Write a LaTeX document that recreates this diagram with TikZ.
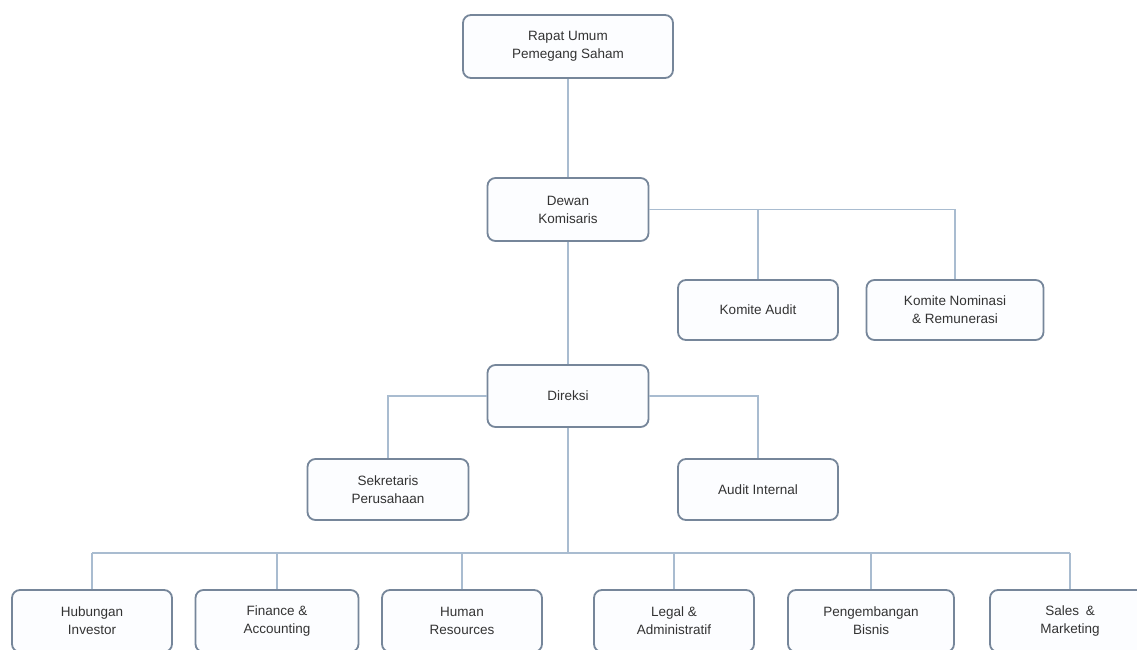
\documentclass[tikz,border=0pt]{standalone}
\usepackage{fontspec}
\setmainfont{Liberation Sans}
\definecolor{boxline}{HTML}{76869A}
\definecolor{boxfill}{HTML}{FCFDFF}
\definecolor{wire}{HTML}{A9BCD0}
\definecolor{ink}{HTML}{333333}
\begin{document}
\begin{tikzpicture}[x=1pt,y=-1pt,
  orgbox/.style={draw=boxline,fill=boxfill,line width=1.8pt,rounded corners=8pt,
    minimum width=160pt,minimum height=61pt,inner sep=0pt,align=center,
    text=ink,font=\fontsize{13.5}{18}\selectfont},
  link/.style={draw=wire,line width=1.4pt}]
\useasboundingbox[fill=white] (0,0) rectangle (1137,650);

% board level
\node[orgbox,minimum width=210pt,minimum height=63pt] (rups) at (568,46.5) {Rapat Umum\\Pemegang Saham};
\node[orgbox,minimum width=161pt,minimum height=63pt] (dekom) at (568,209.5) {Dewan\\Komisaris};
\node[orgbox,minimum height=60pt] (kaudit) at (758,310) {Komite Audit};
\node[orgbox,minimum width=177pt,minimum height=60pt] (knr) at (955,310) {Komite Nominasi\\\& Remunerasi};

% directors
\node[orgbox,minimum width=161pt,minimum height=62pt] (dir) at (568,396) {Direksi};
\node[orgbox,minimum width=161pt] (sekper) at (388,489.5) {Sekretaris\\Perusahaan};
\node[orgbox] (ai) at (758,489.5) {Audit Internal};

% departments
\node[orgbox,minimum height=62pt] (hi) at (92,621) {Hubungan\\Investor};
\node[orgbox,minimum width=163pt,minimum height=62pt] (fa) at (277,621) {Finance \&\\Accounting};
\node[orgbox,minimum height=62pt] (hr) at (462,621) {Human\\Resources};
\node[orgbox,minimum height=62pt] (la) at (674,621) {Legal \&\\Administratif};
\node[orgbox,minimum width=166pt,minimum height=62pt] (pb) at (871,621) {Pengembangan\\Bisnis};
\node[orgbox,minimum height=62pt] (sm) at (1070,621) {Sales\enspace\&\\Marketing};

% department bus
\coordinate (busL) at (92,553);
\coordinate (busR) at (1070,553);

% connectors
\path[link] (rups.south) -- (dekom.north);
\path[link] (dekom.south) -- (dir.north);
\path[link] (dekom.east) -| (kaudit.north);
\path[link] (dekom.east) -| (knr.north);
\path[link] (dir.west) -| (sekper.north);
\path[link] (dir.east) -| (ai.north);
\path[link] (dir.south) -- (dir.south |- busL);
\path[link] (busL) -- (busR);
\foreach \d in {hi,fa,hr,la,pb,sm}
  \path[link] (\d.north) -- (\d.north |- busL);
\end{tikzpicture}
\end{document}
